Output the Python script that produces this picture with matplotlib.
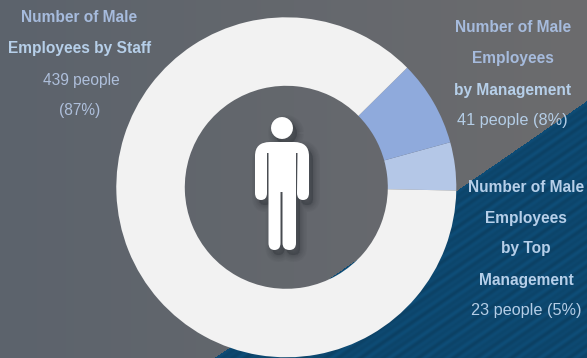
import numpy as np
import matplotlib
matplotlib.use("Agg")
import matplotlib.pyplot as plt
from matplotlib.patches import PathPatch
from matplotlib.path import Path
from matplotlib.transforms import Affine2D

plt.rcParams['font.family'] = ['Liberation Sans', 'DejaVu Sans']

W, H = 587, 358
segments = ["Top Management", "Management", "Staff"]
people = [23, 41, 439]
colors = ["#b4c7e7", "#8faadc", "#f2f2f2"]
title_color = "#a6bbdd"
title_light = "#b6cfe9"
value_color = "#aebfdb"
value_light = "#b4cde6"

fig = plt.figure(figsize=(W / 100, H / 100), dpi=100)
ax = fig.add_axes([0, 0, 1, 1])

# Backdrop: slate gradient, with a dark blue corner under the diagonal
yy, xx = np.mgrid[0:H, 0:W]
t = (xx / W)[..., None]
gray_l = np.array([0x5c, 0x63, 0x6c]) / 255
gray_r = np.array([0x6c, 0x6c, 0x6e]) / 255
rgb = gray_l * (1 - t) + gray_r * t
edge = 190 - 0.69 * (xx - 457)
blue = yy > edge
phase = yy + 0.69 * xx
stripe = (0.55 * np.sin(phase * 2 * np.pi / 8.0)
          + 0.45 * np.sin(phase * 2 * np.pi / 13.0 + 1.0))
blue_rgb = np.array([0x0d, 0x47, 0x6e]) / 255
shade = (1.0 + 0.09 * stripe)[..., None]
rgb = np.where(blue[..., None], np.clip(blue_rgb * shade, 0, 1), rgb)
ax.imshow(rgb, extent=(0, W, 0, H), origin="upper", zorder=0, aspect="auto",
          interpolation="bilinear")

# Donut chart, counter-clockwise from just under the three o'clock position
ax.pie(people, colors=colors, startangle=-1.1, radius=170, center=(286.3, H - 187.3),
       wedgeprops=dict(width=68.5, linewidth=0), frame=False)
ax.set_xlim(0, W)
ax.set_ylim(0, H)
ax.set_aspect("auto")
ax.axis("off")


def y_(v):
    return H - v


# Person icon outline, in pixel positions measured from the top left
M, L, Q = Path.MOVETO, Path.LINETO, Path.CURVE3
outline = [
    (M, 270, 142), (L, 294, 142), (Q, 309, 142), (Q, 309, 156), (L, 309, 193),
    (Q, 309, 200), (Q, 303, 200), (Q, 297, 200), (Q, 297, 193), (L, 297.5, 153),
    (L, 296, 153), (L, 296, 243), (Q, 296, 250), (Q, 289.5, 250), (Q, 282.5, 250),
    (Q, 282.5, 243), (L, 282.5, 192), (L, 280.5, 192), (L, 280.5, 243), (Q, 280.5, 250),
    (Q, 274.5, 250), (Q, 268.5, 250), (Q, 268.5, 243), (L, 268.5, 153), (L, 267, 153),
    (L, 267, 193), (Q, 267, 200), (Q, 261, 200), (Q, 255, 200), (Q, 255, 193),
    (L, 255, 156), (Q, 255, 142), (Q, 270, 142),
]
theta = np.linspace(0, 2 * np.pi, 25)
codes = [c for c, _, _ in outline] + [M] + [L] * 24
verts = [(x, y_(y)) for _, x, y in outline]
verts += [(282 + 11 * np.cos(a), y_(128) + 11 * np.sin(a)) for a in theta]
icon = Path(verts, codes)

# Soft drop shadow from widening translucent strokes, then the white icon on top
shadow = icon.transformed(Affine2D().translate(4, -5))
for lw in [14, 11, 8, 6, 4, 2]:
    ax.add_patch(PathPatch(shadow, fc="#262a30", ec="#262a30", lw=lw * 0.72,
                           alpha=0.05, zorder=3, joinstyle="round"))
ax.add_patch(PathPatch(icon, fc="white", ec="none", zorder=4))


def label(x, y, s, color, bold=True, size=11.2):
    ax.text(x, y_(y + 1), s, ha="center", va="center", fontsize=size,
            fontweight="bold" if bold else "normal", color=color, zorder=5)


label(79.5, 16, "Number of Male", title_color)
label(79.5, 48, "Employees by Staff", title_light)
label(81.5, 79, "439 people", value_color, False)
label(80, 110, "(87%)", value_color, False)

label(513, 27, "Number of Male", title_color)
label(513, 58, "Employees", title_color)
label(513, 90, "by Management", title_light)
label(512.5, 120, "41 people (8%)", value_light, False, 11.7)

label(526, 186, "Number of Male", title_light)
label(526, 218, "Employees", title_light)
label(526, 248, "by Top", title_light)
label(526, 279, "Management", title_light)
label(526, 310, "23 people (5%)", value_light, False, 11.7)

fig.savefig("out.png", dpi=100)
